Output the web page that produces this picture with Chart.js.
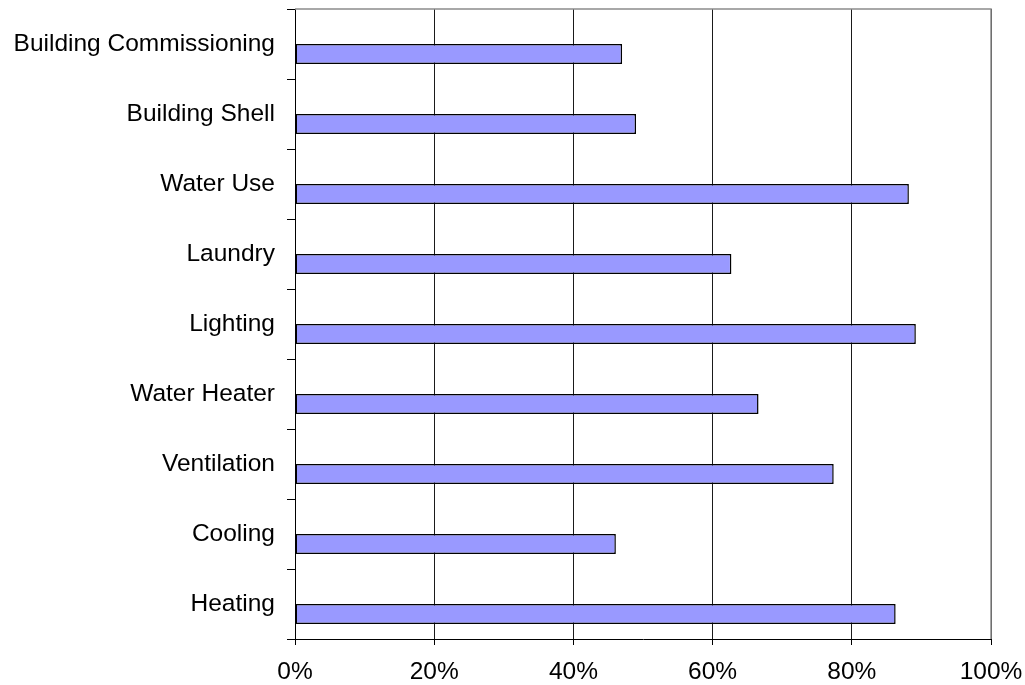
<!DOCTYPE html>
<html>
<head>
<meta charset="utf-8">
<title>Measure adoption by end use</title>
<script src="https://cdn.jsdelivr.net/npm/chart.js@4/dist/chart.umd.min.js"></script>
<style>
  html, body { margin: 0; padding: 0; background: #ffffff; }
  #wrap { width: 1025px; height: 685px; }
</style>
</head>
<body>
<div id="wrap"><canvas id="chart" width="1025" height="685"></canvas></div>
<script>
// End-use categories, listed top to bottom
const categories = [
  'Building Commissioning',
  'Building Shell',
  'Water Use',
  'Laundry',
  'Lighting',
  'Water Heater',
  'Ventilation',
  'Cooling',
  'Heating'
];

// Share (%) for each category
const shareValues = [47.0, 49.0, 88.2, 62.7, 89.2, 66.6, 77.4, 46.1, 86.3];

// Unused companion series that keeps each bar in the lower half of its row
const blankValues = [null, null, null, null, null, null, null, null, null];

// Value axis labels
const xTickLabels = ['0%', '20%', '40%', '60%', '80%', '100%'];

const FONT = 'Arial, "Liberation Sans", Helvetica, sans-serif';

// Grey frame along the top and right edges of the plot area
const plotFrame = {
  id: 'plotFrame',
  afterDraw(chart) {
    const { ctx, chartArea: a } = chart;
    ctx.save();
    ctx.strokeStyle = '#8c8c8c';
    ctx.lineWidth = 1.5;
    ctx.beginPath();
    ctx.moveTo(a.left, a.top);
    ctx.lineTo(a.right, a.top);
    ctx.lineTo(a.right, a.bottom);
    ctx.stroke();
    ctx.restore();
  }
};

new Chart(document.getElementById('chart'), {
  type: 'bar',
  data: {
    labels: categories,
    datasets: [
      {
        label: 'blank',
        data: blankValues,
        backgroundColor: '#9999ff',
        borderColor: '#000000',
        borderWidth: 0
      },
      {
        label: 'Share',
        data: shareValues,
        backgroundColor: '#9999ff',
        borderColor: '#000000',
        borderWidth: 1.5,
        borderSkipped: false
      }
    ]
  },
  options: {
    indexAxis: 'y',
    responsive: false,
    animation: false,
    devicePixelRatio: 1,
    categoryPercentage: 0.571,
    barPercentage: 1.0,
    layout: { padding: { top: 9, right: 34, bottom: 0, left: 0 } },
    plugins: {
      legend: { display: false },
      tooltip: { enabled: false },
      title: { display: false }
    },
    scales: {
      x: {
        type: 'linear',
        min: 0,
        max: 100,
        ticks: {
          stepSize: 20,
          color: '#000000',
          padding: 13,
          font: { family: FONT, size: 24.5, lineHeight: 1.2 },
          callback: (v) => xTickLabels[Math.round(v / 20)]
        },
        grid: {
          color: '#1a1a1a',
          lineWidth: 1,
          tickLength: 6,
          tickColor: '#000000'
        },
        border: { display: true, color: '#000000', width: 1 },
        afterFit(scale) {
          scale.height = 46;
          scale.paddingLeft = 0;
          scale.paddingRight = 0;
        }
      },
      y: {
        type: 'category',
        offset: true,
        ticks: {
          color: '#000000',
          padding: 12,
          font: { family: FONT, size: 24.5 }
        },
        grid: {
          offset: true,
          drawOnChartArea: false,
          tickLength: 8,
          color: '#000000',
          lineWidth: 1
        },
        border: { display: true, color: '#000000', width: 1 },
        afterFit(scale) {
          scale.width = 295;
          scale.paddingTop = 0;
          scale.paddingBottom = 0;
        }
      }
    }
  },
  plugins: [plotFrame]
});
</script>
</body>
</html>
